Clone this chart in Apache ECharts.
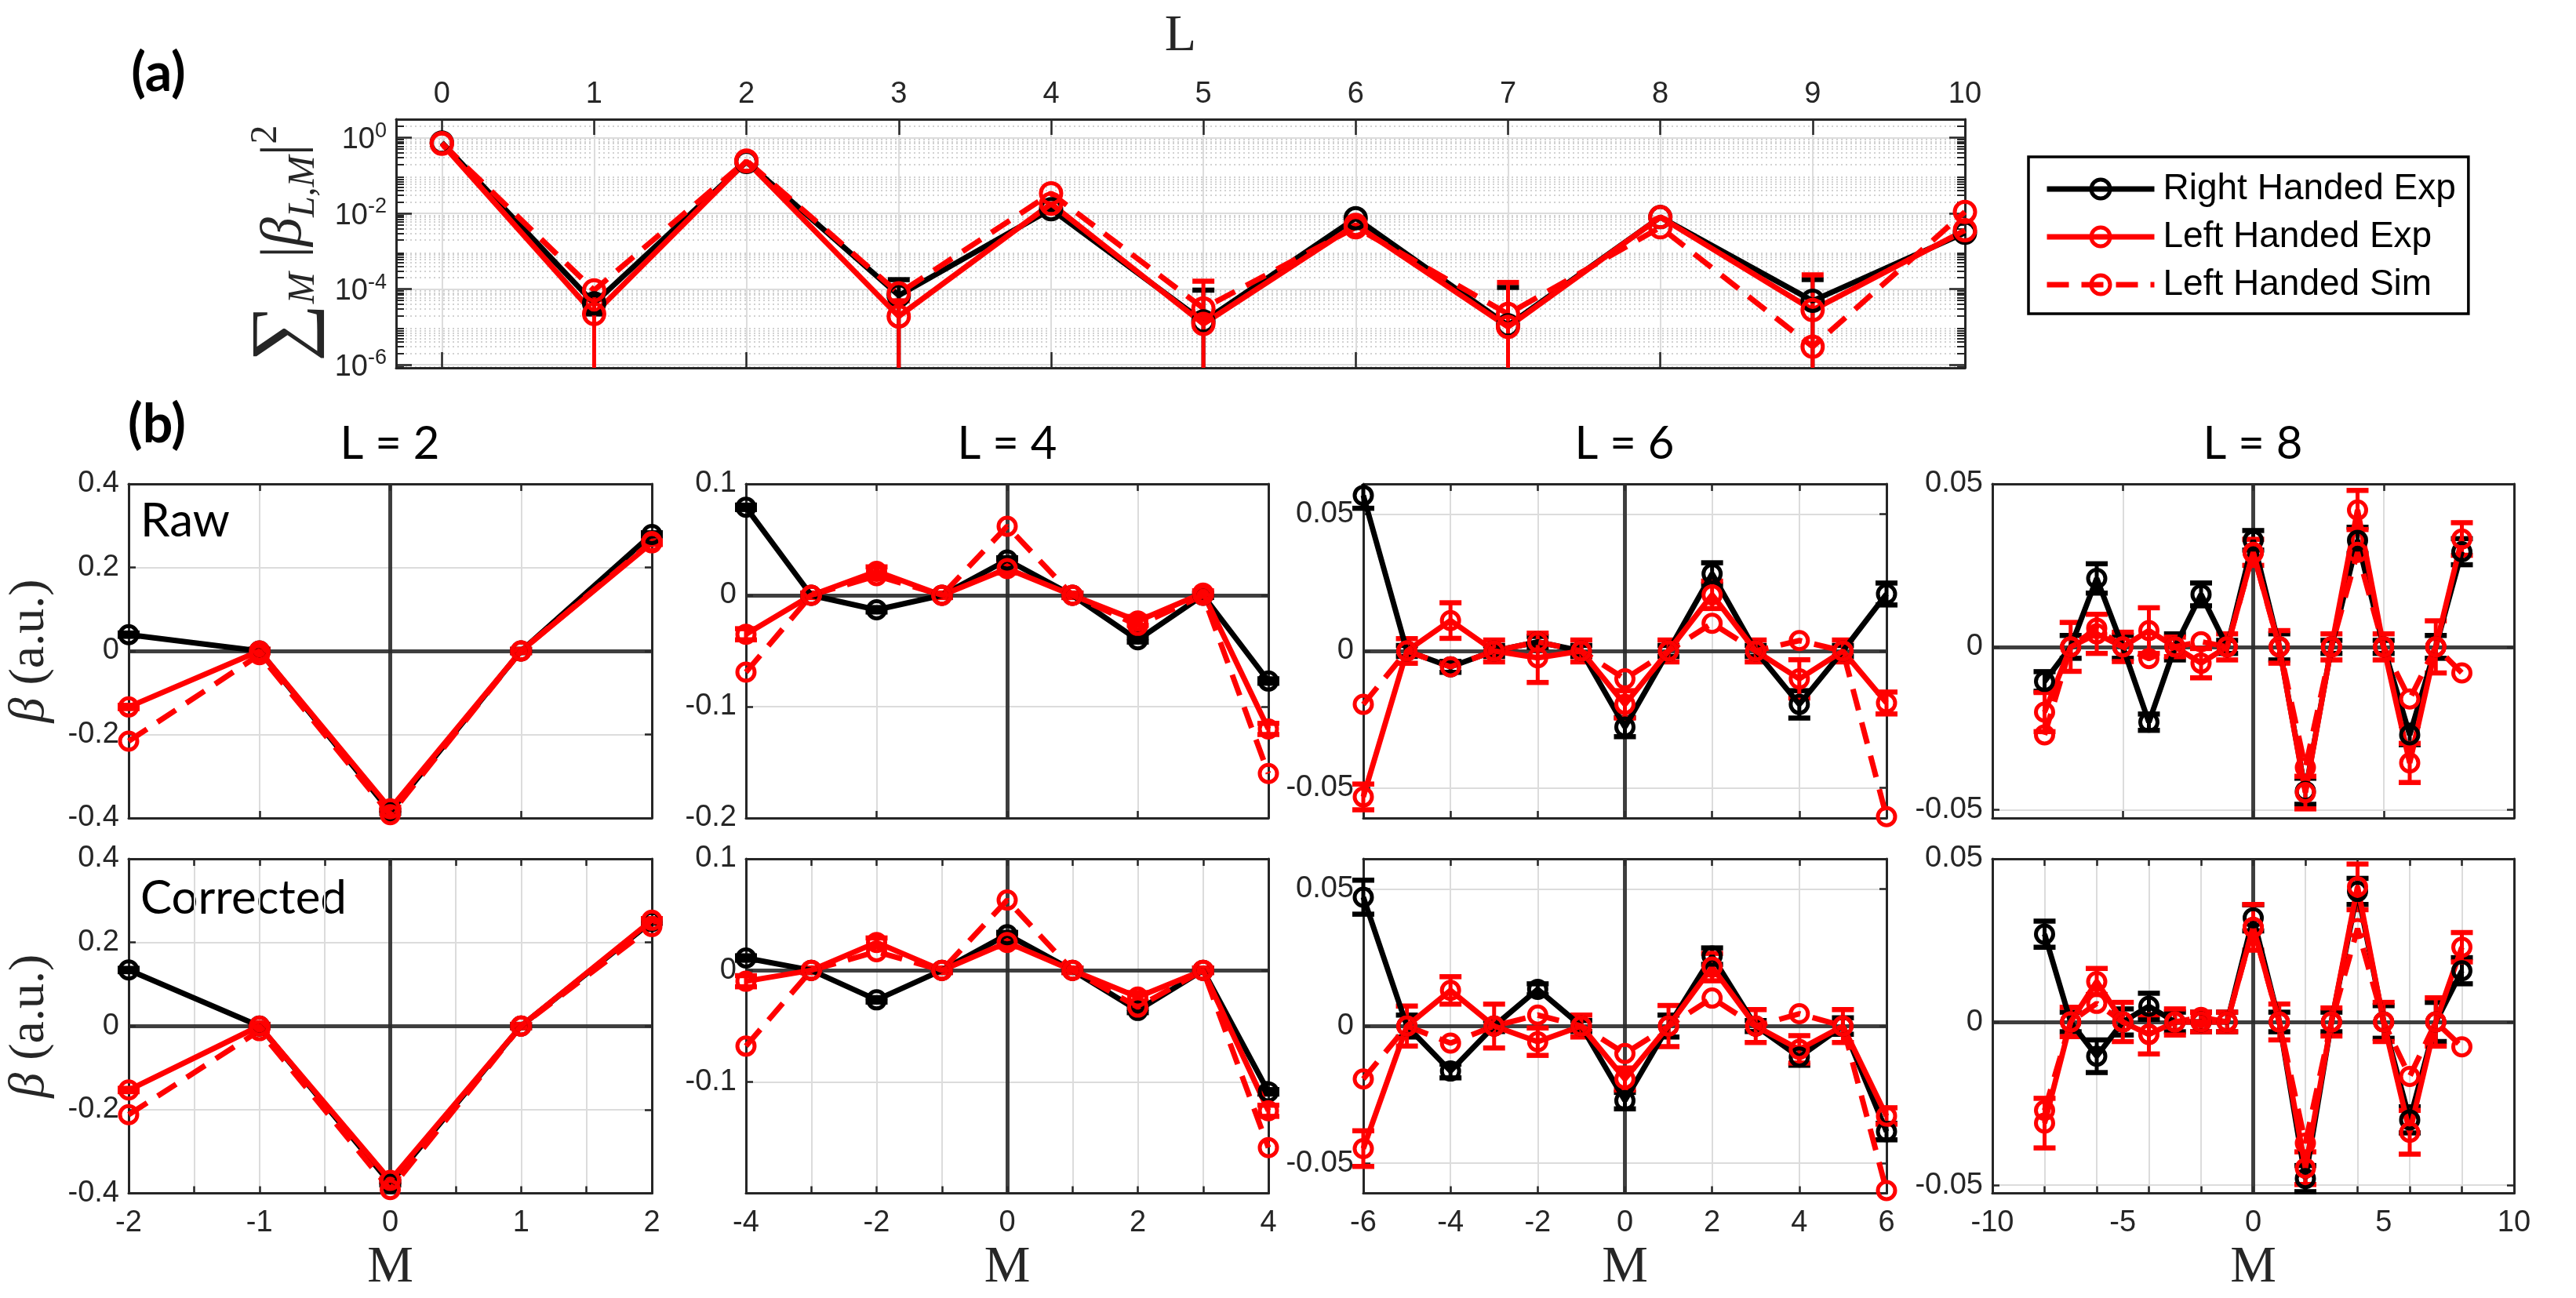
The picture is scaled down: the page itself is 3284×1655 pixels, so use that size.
<!DOCTYPE html>
<html>
<head>
<meta charset="utf-8">
<script src="https://cdn.jsdelivr.net/npm/echarts@6/dist/echarts.min.js"></script>
<style>
html, body { margin: 0; padding: 0; background: #fff; }
#chart { width: 3284px; height: 1655px; }
</style>
</head>
<body>
<div id="chart"></div>
<script>
// ---- (a) sum over M of |beta_LM|^2 versus L ----
var lValues = [0, 1, 2, 3, 4, 5, 6, 7, 8, 9, 10];
var sumRight = [0.75, 4.2e-5, 0.23, 6.8e-5, 0.013, 1.4e-5, 0.0075, 1.1e-5, 0.008, 4.9e-5, 0.0031];
var sumRightErr = [0, 2e-5, 0, 1.1e-4, 0, 8e-5, 0, 1e-4, 0, 1.3e-4, 0];
var sumLeft = [0.70, 2.2e-5, 0.24, 1.9e-5, 0.018, 1.2e-5, 0.005, 1.0e-5, 0.008, 2.8e-5, 0.0036];
var sumLeftErr = [0, 3e-5, 0, 3e-5, 0, 1.5e-4, 0, 1.4e-4, 0, 2.1e-4, 0];
var sumSim = [0.72, 9.3e-5, 0.25, 7.7e-5, 0.034, 3.1e-5, 0.0043, 2.2e-5, 0.0043, 3e-6, 0.011];
var logTicks = [1e-6, 1e-4, 1e-2, 1];

// ---- (b) beta_LM versus M ----
var l2M = [-2, -1, 0, 1, 2];
var l2RawRight = [0.039, 0, -0.385, 0, 0.279];
var l2RawLeft = [-0.134, 0, -0.378, 0, 0.259];
var l2RawSim = [-0.216, -0.009, -0.392, 0, 0.262];
var l2CorRight = [0.134, 0, -0.376, 0, 0.25];
var l2CorLeft = [-0.153, 0, -0.369, 0, 0.253];
var l2CorSim = [-0.212, -0.011, -0.391, 0, 0.238];
var l2Err = [0.004, 0.004, 0.004, 0.004, 0.004];

var l4M = [-4, -3, -2, -1, 0, 1, 2, 3, 4];
var l4RawRight = [0.079, 0, -0.013, 0, 0.0317, 0, -0.040, 0, -0.077];
var l4RawLeft = [-0.035, 0, 0.0215, 0, 0.024, 0, -0.023, 0.002, -0.12];
var l4RawSim = [-0.069, 0, 0.0176, 0, 0.062, 0, -0.027, 0, -0.16];
var l4CorRight = [0.011, 0, -0.0265, 0, 0.032, 0, -0.036, 0, -0.109];
var l4CorLeft = [-0.0098, 0, 0.025, 0, 0.025, 0, -0.024, 0, -0.126];
var l4CorSim = [-0.068, 0, 0.0167, 0, 0.063, 0, -0.033, 0, -0.159];
var l4RightErr = [0.002, 0.002, 0.002, 0.002, 0.002, 0.002, 0.002, 0.002, 0.002];
var l4LeftErr = [0.005, 0.002, 0.004, 0.002, 0.004, 0.002, 0.004, 0.002, 0.005];

var l6M = [-6, -5, -4, -3, -2, -1, 0, 1, 2, 3, 4, 5, 6];
var l6RawRight = [0.0568, 0, -0.0058, 0, 0.0033, 0, -0.0278, 0, 0.0282, 0, -0.0195, 0, 0.0208];
var l6RawRightErr = [0.0047, 0.002, 0.002, 0.002, 0.002, 0.002, 0.0035, 0.002, 0.004, 0.002, 0.005, 0.002, 0.004];
var l6RawLeft = [-0.0533, 0, 0.0111, 0, -0.0025, 0, -0.0195, 0, 0.0205, 0, -0.0102, 0, -0.019];
var l6RawLeftErr = [0.0047, 0.0045, 0.0065, 0.004, 0.009, 0.004, 0.005, 0.004, 0.005, 0.004, 0.007, 0.004, 0.004];
var l6RawSim = [-0.0195, 0, -0.0058, 0, 0.0033, 0, -0.0102, 0, 0.0101, 0, 0.0038, 0, -0.0605];
var l6CorRight = [0.047, 0, -0.0164, 0, 0.0134, 0, -0.0272, 0, 0.0255, 0, -0.0113, 0, -0.0385];
var l6CorRightErr = [0.0062, 0.004, 0.0025, 0.002, 0.002, 0.002, 0.003, 0.004, 0.003, 0.002, 0.003, 0.003, 0.003];
var l6CorLeft = [-0.0447, 0, 0.013, 0, -0.0057, 0, -0.0193, 0, 0.0215, 0, -0.0085, 0, -0.0328];
var l6CorLeftErr = [0.0065, 0.0073, 0.005, 0.008, 0.005, 0.004, 0.004, 0.0075, 0.005, 0.006, 0.005, 0.006, 0.003];
var l6CorSim = [-0.0193, 0, -0.0062, 0, 0.004, 0, -0.010, 0, 0.0102, 0, 0.0045, 0, -0.060];

var l8M = [-8, -7, -6, -5, -4, -3, -2, -1, 0, 1, 2, 3, 4, 5, 6, 7, 8];
var l8RawRight = [-0.0106, 0, 0.021, 0, -0.0231, 0, 0.0161, 0, 0.0327, 0, -0.0443, 0, 0.0327, 0, -0.027, 0, 0.0292];
var l8RawRightErr = [0.003, 0.0035, 0.0045, 0.0035, 0.0025, 0.004, 0.0035, 0.002, 0.003, 0.004, 0.004, 0.002, 0.004, 0.002, 0.003, 0.0035, 0.004];
var l8RawLeft = [-0.020, 0, 0.004, 0, 0.005, 0, -0.005, 0, 0.029, 0, -0.0447, 0, 0.042, 0, -0.0356, 0, 0.0331];
var l8RawLeftErr = [0.006, 0.0075, 0.006, 0.0045, 0.007, 0.003, 0.0045, 0.004, 0.004, 0.005, 0.005, 0.004, 0.006, 0.004, 0.006, 0.008, 0.005];
var l8RawSim = [-0.027, 0, 0.0057, 0, -0.0036, 0, 0.0016, 0, 0.0288, 0, -0.037, 0, 0.029, 0, -0.016, 0, -0.008];
var l8CorRight = [0.0269, 0, -0.0105, 0, 0.0048, 0, 0, 0, 0.0319, 0, -0.048, 0, 0.040, 0, -0.030, 0, 0.0157];
var l8CorRightErr = [0.004, 0.003, 0.005, 0.004, 0.004, 0.003, 0.003, 0.003, 0.004, 0.003, 0.004, 0.003, 0.004, 0.005, 0.004, 0.006, 0.004];
var l8CorLeft = [-0.031, 0, 0.0124, 0, -0.0038, 0, 0, 0, 0.029, 0, -0.0448, 0, 0.0414, 0, -0.0338, 0, 0.0229];
var l8CorLeftErr = [0.0076, 0.0045, 0.004, 0.006, 0.006, 0.004, 0.003, 0.003, 0.007, 0.0055, 0.005, 0.0043, 0.007, 0.006, 0.0067, 0.0074, 0.0045];
var l8CorSim = [-0.0271, 0, 0.0057, 0, -0.0038, 0, 0.0014, 0, 0.029, 0, -0.0371, 0, 0.0286, 0, -0.0167, 0, -0.0076];

var seriesNames = ['Right Handed Exp', 'Left Handed Exp', 'Left Handed Sim'];

var BLACK = '#000000', RED = '#ff0000', AXIS = '#262626', GRID = '#dcdcdc';
var SANS = 'Arial, "Liberation Sans", Helvetica, sans-serif';
var SERIF = '"Liberation Serif", "DejaVu Serif", serif';
var CALI = 'Lato, "Open Sans", sans-serif';
var LINE_W = 7, DASH = [28, 16];

var chart = echarts.init(document.getElementById('chart'));
var grids = [], xAxes = [], yAxes = [], series = [];

function tickStyle(len) {
    return { show: true, inside: true, length: len, lineStyle: { color: AXIS, width: 2.5 } };
}

function addPanel(p) {
    var gi = grids.length;
    grids.push({ left: p.rect[0], top: p.rect[1], width: p.rect[2], height: p.rect[3] });
    var xi = xAxes.length, yi = yAxes.length;
    var xt = tickStyle(p.tickLen || 9); xt.customValues = p.xTicks;
    var yt = tickStyle(p.tickLen || 9); yt.customValues = p.yTicks;
    xAxes.push({
        type: 'value', gridIndex: gi, position: p.xPos || 'bottom', min: p.xMin, max: p.xMax,
        axisLine: { show: true, onZero: false, lineStyle: { color: AXIS, width: 3 } },
        axisTick: xt,
        axisLabel: { show: !!p.xLabels, customValues: p.xLabels, margin: p.xMargin || 19, fontSize: 38, color: AXIS, fontFamily: SANS },
        splitLine: { show: true, lineStyle: { color: GRID, width: 2 } },
        name: p.xName || '', nameLocation: 'middle', nameGap: p.xNameGap || 62,
        nameTextStyle: { fontFamily: SERIF, fontSize: 66, color: AXIS }
    });
    var xt2 = tickStyle(p.tickLen || 9); xt2.customValues = p.xTicks;
    xAxes.push({
        type: 'value', gridIndex: gi, position: p.xPos === 'top' ? 'bottom' : 'top', min: p.xMin, max: p.xMax,
        axisLine: { show: true, onZero: false, lineStyle: { color: AXIS, width: 3 } },
        axisTick: xt2, axisLabel: { show: false }, splitLine: { show: false }
    });
    var yMain = {
        type: p.yType || 'value', gridIndex: gi, position: 'left', min: p.yMin, max: p.yMax,
        axisLine: { show: true, onZero: false, lineStyle: { color: AXIS, width: 3 } },
        axisTick: yt,
        axisLabel: { show: true, customValues: p.yLabels, margin: 12, fontSize: 38, color: AXIS, fontFamily: SANS },
        splitLine: { show: true, lineStyle: { color: GRID, width: 2 } },
        name: p.yName || '', nameLocation: 'middle', nameRotate: 90, nameGap: p.yNameGap || 96,
        nameTextStyle: p.yNameStyle || {}
    };
    var yMirror = {
        type: p.yType || 'value', gridIndex: gi, position: 'right', min: p.yMin, max: p.yMax,
        axisLine: { show: true, onZero: false, lineStyle: { color: AXIS, width: 3 } },
        axisTick: tickStyle(p.tickLen || 9), axisLabel: { show: false }, splitLine: { show: false }
    };
    yMirror.axisTick.customValues = p.yTicks;
    if (p.yType === 'log') {
        yMain.axisLabel.formatter = p.yFormatter;
        yMain.axisLabel.rich = p.yRich;
        yMain.minorTick = { show: true, splitNumber: 9, length: 10, lineStyle: { color: AXIS, width: 2 } };
        yMain.minorSplitLine = { show: true, lineStyle: { color: '#c4c4c4', width: 1.5, type: [2, 4] } };
        yMirror.minorTick = { show: true, splitNumber: 9, length: 10, lineStyle: { color: AXIS, width: 2 } };
    }
    yAxes.push(yMain);
    yAxes.push(yMirror);
    return { x: xi, y: yi, log: p.yType === 'log', zero: !!p.zero };
}

function pairs(xs, vals) {
    return xs.map(function (x, i) { return [x, vals[i]]; });
}

function errData(xs, vals, errs, log) {
    var out = [];
    xs.forEach(function (x, i) {
        if (!errs[i]) return;
        var lo = vals[i] - errs[i];
        if (log && lo <= 0) lo = 1e-12;
        out.push([x, lo, vals[i] + errs[i]]);
    });
    return out;
}

function errorBarRender(color, capHalf) {
    return function (params, api) {
        var cs = params.coordSys;
        var x = api.value(0);
        var top = api.coord([x, api.value(2)]);
        var bot = api.coord([x, api.value(1)]);
        var yTop = cs.y, yBot = cs.y + cs.height;
        var y1 = top[1], y2 = bot[1];
        if (!isFinite(y2) || y2 > yBot) y2 = yBot;
        if (!isFinite(y1) || y1 < yTop) y1 = yTop;
        var style = { stroke: color, lineWidth: 5 };
        var capStyle = { stroke: color, lineWidth: 6.5 };
        var kids = [{ type: 'line', shape: { x1: top[0], y1: y1, x2: top[0], y2: y2 }, style: style }];
        if (top[1] >= yTop && top[1] <= yBot) {
            kids.push({ type: 'line', shape: { x1: top[0] - capHalf, y1: top[1], x2: top[0] + capHalf, y2: top[1] }, style: capStyle });
        }
        if (isFinite(bot[1]) && bot[1] >= yTop && bot[1] <= yBot) {
            kids.push({ type: 'line', shape: { x1: bot[0] - capHalf, y1: bot[1], x2: bot[0] + capHalf, y2: bot[1] }, style: capStyle });
        }
        return { type: 'group', children: kids };
    };
}

function errSeries(ax, xs, vals, errs, color) {
    return {
        type: 'custom', xAxisIndex: ax.x, yAxisIndex: ax.y, silent: true, z: 6,
        renderItem: errorBarRender(color, 14),
        encode: { x: 0, y: [1, 2] },
        data: errData(xs, vals, errs, ax.log)
    };
}

function lineSeries(ax, name, xs, vals, color, type, size) {
    return {
        type: 'line', name: name, xAxisIndex: ax.x, yAxisIndex: ax.y, silent: true, z: 6,
        data: pairs(xs, vals), symbol: 'circle', symbolSize: size, showSymbol: true,
        itemStyle: { color: 'rgba(255,255,255,0)', borderColor: color, borderWidth: 5 },
        lineStyle: { color: color, width: LINE_W, type: type }
    };
}

function addSeries(ax, xs, right, rightErr, left, leftErr, sim, size) {
    if (ax.zero) {
        series.push({
            type: 'line', xAxisIndex: ax.x, yAxisIndex: ax.y, data: [], silent: true,
            markLine: {
                silent: true, symbol: ['none', 'none'], label: { show: false }, animation: false,
                lineStyle: { color: '#2b2b2b', width: 5, type: 'solid', opacity: 0.9 },
                data: [{ xAxis: 0 }, { yAxis: 0 }]
            }
        });
    }
    series.push(errSeries(ax, xs, right, rightErr, BLACK));
    series.push(lineSeries(ax, seriesNames[0], xs, right, BLACK, 'solid', size));
    series.push(errSeries(ax, xs, left, leftErr, RED));
    series.push(lineSeries(ax, seriesNames[1], xs, left, RED, 'solid', size));
    series.push(lineSeries(ax, seriesNames[2], xs, sim, RED, DASH, size));
}

// ---- panel (a) ----
var axA = addPanel({
    rect: [505, 152, 2000, 317], tickLen: 20,
    xPos: 'top', xMin: -0.3, xMax: 10, xTicks: lValues, xLabels: lValues, xMargin: 12,
    xName: 'L', xNameGap: 72,
    yType: 'log', yMin: 8.3e-7, yMax: 3.1, yTicks: logTicks, yLabels: logTicks,
    yFormatter: function (v) {
        return '{b|10}{s|' + Math.round(Math.log10(v)) + '}';
    },
    yRich: {
        b: { fontSize: 38, fontFamily: SANS, color: AXIS, lineHeight: 44, verticalAlign: 'bottom' },
        s: { fontSize: 27, fontFamily: SANS, color: AXIS, lineHeight: 44, verticalAlign: 'top' }
    },
    yName: '{sum|\u2211}{sub|M}{t| |}{bi|\u03b2}{sub|L,M}{t||}{sup|2}', yNameGap: 76,
    yNameStyle: {
        rich: {
            sum: { fontFamily: SERIF, fontSize: 104, color: AXIS, lineHeight: 104 },
            t: { fontFamily: SERIF, fontSize: 74, color: AXIS, lineHeight: 104 },
            bi: { fontFamily: SERIF, fontStyle: 'italic', fontSize: 74, color: AXIS, lineHeight: 104 },
            sub: { fontFamily: SERIF, fontStyle: 'italic', fontSize: 48, color: AXIS, lineHeight: 104, verticalAlign: 'bottom', padding: [0, 0, 4, 0] },
            sup: { fontFamily: SERIF, fontSize: 48, color: AXIS, lineHeight: 104, verticalAlign: 'top', padding: [4, 0, 0, 0] }
        }
    }
});
addSeries(axA, lValues, sumRight, sumRightErr, sumLeft, sumLeftErr, sumSim, 26);

// ---- panels (b) ----
var cols = [[164, 667], [951, 666], [1738, 667], [2540, 665]];
var rows = [[617, 426], [1095, 426.5]];
var betaName = '{bi|\u03b2}{t| (a.u.)}';
var betaStyle = {
    rich: {
        bi: { fontFamily: SERIF, fontStyle: 'italic', fontSize: 64, color: AXIS },
        t: { fontFamily: SERIF, fontSize: 64, color: AXIS }
    }
};

var panelDefs = [
    { c: 0, xMin: -2, xMax: 2, yMin: -0.4, yMax: 0.4, yTicks: [-0.4, -0.2, 0, 0.2, 0.4],
      rows: [
        { xTicks: l2M, data: [l2RawRight, l2Err, l2RawLeft, l2Err, l2RawSim], yLabels: [-0.4, -0.2, 0, 0.2, 0.4] },
        { xTicks: [-2, -1.5, -1, -0.5, 0, 0.5, 1, 1.5, 2], xLabels: l2M, data: [l2CorRight, l2Err, l2CorLeft, l2Err, l2CorSim], yLabels: [-0.4, -0.2, 0, 0.2, 0.4] }
      ], xs: l2M },
    { c: 1, xMin: -4, xMax: 4, yMin: -0.2, yMax: 0.1, yTicks: [-0.2, -0.1, 0, 0.1],
      rows: [
        { xTicks: [-4, -2, 0, 2, 4], data: [l4RawRight, l4RightErr, l4RawLeft, l4LeftErr, l4RawSim], yLabels: [-0.2, -0.1, 0, 0.1] },
        { xTicks: l4M, xLabels: [-4, -2, 0, 2, 4], data: [l4CorRight, l4RightErr, l4CorLeft, l4LeftErr, l4CorSim], yLabels: [-0.1, 0, 0.1] }
      ], xs: l4M },
    { c: 2, xMin: -6, xMax: 6, yMin: -0.061, yMax: 0.061, yTicks: [-0.05, 0, 0.05],
      rows: [
        { xTicks: [-6, -4, -2, 0, 2, 4, 6], data: [l6RawRight, l6RawRightErr, l6RawLeft, l6RawLeftErr, l6RawSim], yLabels: [-0.05, 0, 0.05] },
        { xTicks: [-6, -4, -2, 0, 2, 4, 6], xLabels: [-6, -4, -2, 0, 2, 4, 6], data: [l6CorRight, l6CorRightErr, l6CorLeft, l6CorLeftErr, l6CorSim], yLabels: [-0.05, 0, 0.05] }
      ], xs: l6M },
    { c: 3, xMin: -10, xMax: 10, yMin: -0.0525, yMax: 0.05, yTicks: [-0.05, 0, 0.05],
      rows: [
        { xTicks: [-10, -5, 0, 5, 10], data: [l8RawRight, l8RawRightErr, l8RawLeft, l8RawLeftErr, l8RawSim], yLabels: [-0.05, 0, 0.05] },
        { xTicks: [-10, -8, -6, -4, -2, 0, 2, 4, 6, 8, 10], xLabels: [-10, -5, 0, 5, 10], data: [l8CorRight, l8CorRightErr, l8CorLeft, l8CorLeftErr, l8CorSim], yLabels: [-0.05, 0, 0.05] }
      ], xs: l8M }
];

panelDefs.forEach(function (d) {
    d.rows.forEach(function (r, ri) {
        var ax = addPanel({
            rect: [cols[d.c][0], rows[ri][0], cols[d.c][1], rows[ri][1]],
            xMin: d.xMin, xMax: d.xMax, xTicks: r.xTicks, xLabels: r.xLabels,
            xName: ri === 1 ? 'M' : '', xNameGap: 62,
            yMin: d.yMin, yMax: d.yMax, yTicks: d.yTicks, yLabels: r.yLabels,
            yName: d.c === 0 ? betaName : '', yNameGap: 94, yNameStyle: betaStyle,
            zero: true
        });
        addSeries(ax, d.xs, r.data[0], r.data[1], r.data[2], r.data[3], r.data[4], 22);
    });
});

function label(text, x, y, size, weight, align) {
    return {
        type: 'text', x: x, y: y, silent: true,
        style: { text: text, fill: '#000', font: (weight || 'normal') + ' ' + size + 'px ' + CALI, align: align || 'center', verticalAlign: 'middle' }
    };
}

var graphics = [
    label('(a)', 202, 94, 68, 'bold'),
    label('(b)', 200, 542, 68, 'bold'),
    label('L = 2', 497, 566, 58),
    label('L = 4', 1284, 566, 58),
    label('L = 6', 2071, 566, 58),
    label('L = 8', 2872, 566, 58),
    label('Raw', 179, 665, 60, 'normal', 'left'),
    label('Corrected', 179, 1146, 60, 'normal', 'left')
];

var option = {
    animation: false,
    backgroundColor: '#ffffff',
    textStyle: { fontFamily: SANS },
    grid: grids,
    xAxis: xAxes,
    yAxis: yAxes,
    legend: {
        orient: 'vertical', left: 2586, top: 200,
        data: seriesNames,
        itemWidth: 137, itemHeight: 30, itemGap: 15,
        padding: [18, 16, 14, 20],
        borderColor: '#000', borderWidth: 3.5, backgroundColor: '#fff',
        selectedMode: false,
        lineStyle: { width: 7 },
        itemStyle: { borderWidth: 5 },
        textStyle: { fontSize: 46, fontFamily: SANS, color: '#000', padding: [0, 0, 0, 6] }
    },
    graphic: graphics,
    series: series
};
chart.setOption(option);
</script>
</body>
</html>
